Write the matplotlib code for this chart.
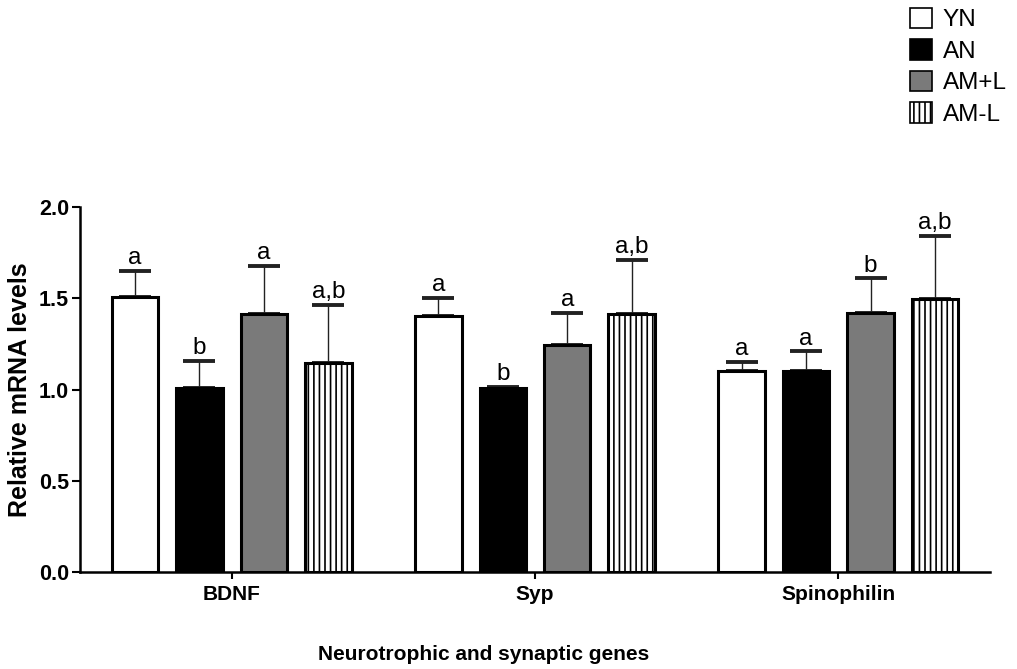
import numpy as np
import matplotlib
matplotlib.use("Agg")
import matplotlib.pyplot as plt
from matplotlib.patches import Patch

plt.rcParams['font.family'] = ['Liberation Sans', 'DejaVu Sans']
plt.rcParams['hatch.linewidth'] = 1.2

# data
genes = ["BDNF", "Syp", "Spinophilin"]
groups = ["YN", "AN", "AM+L", "AM-L"]
means = {
    "YN": [1.505, 1.403, 1.101],
    "AN": [1.008, 1.007, 1.103],
    "AM+L": [1.414, 1.244, 1.421],
    "AM-L": [1.143, 1.414, 1.494],
}
errors = {
    "YN": [0.145, 0.097, 0.048],
    "AN": [0.150, 0.008, 0.106],
    "AM+L": [0.261, 0.176, 0.188],
    "AM-L": [0.320, 0.296, 0.349],
}
letters = {
    "YN": ["a", "a", "a"],
    "AN": ["b", "b", "a"],
    "AM+L": ["a", "a", "b"],
    "AM-L": ["a,b", "a,b", "a,b"],
}

colors = {"YN": "white", "AN": "black", "AM+L": "#7a7a7a", "AM-L": "white"}
hatches = {"YN": None, "AN": None, "AM+L": None, "AM-L": "|||"}

fig = plt.figure(figsize=(10.17, 6.69), dpi=100)
ax = fig.add_axes([80 / 1017, 1 - 572 / 669, 910 / 1017, 365 / 669])

x = np.arange(len(genes))
pitch = 0.2125
width = 0.153

handles = []
for i, g in enumerate(groups):
    pos = x + (i - 1.5) * pitch
    ax.bar(pos, means[g], width, color=colors[g], edgecolor="black",
           linewidth=2.2, hatch=hatches[g], zorder=2)
    ax.errorbar(pos, means[g], yerr=[np.zeros(len(genes)), errors[g]],
                fmt="none", ecolor="#222222", elinewidth=1.0,
                capsize=11.5, capthick=2.8, zorder=1)
    for p, m, e, t in zip(pos, means[g], errors[g], letters[g]):
        ax.text(p, m + e + 0.01, t, ha="center", va="bottom", fontsize=17.5)
    handles.append(Patch(facecolor=colors[g], edgecolor="black",
                         linewidth=1.2, hatch=hatches[g], label=g))

ax.set_xlim(-0.5, 2.5)
ax.set_ylim(0, 2.0)
ax.set_yticks([0, 0.5, 1.0, 1.5, 2.0])
ax.set_yticklabels(["0.0", "0.5", "1.0", "1.5", "2.0"], fontweight="bold", fontsize=15.5)
ax.set_xticks(x)
ax.set_xticklabels(genes, fontweight="bold", fontsize=15)
ax.tick_params(axis="y", length=6, width=1.5, pad=2)
ax.tick_params(axis="x", length=5, width=1.5, pad=4)

for s in ["top", "right"]:
    ax.spines[s].set_visible(False)
for s in ["left", "bottom"]:
    ax.spines[s].set_linewidth(1.8)

ax.set_ylabel("Relative mRNA levels", fontweight="bold", fontsize=18)
ax.yaxis.set_label_coords(-0.053, 0.5)
ax.set_xlabel("Neurotrophic and synaptic genes", fontweight="bold", fontsize=15)
ax.xaxis.set_label_coords(0.443, -0.2)

fig.legend(handles=handles, loc="upper left",
           bbox_to_anchor=(910 / 1017, 1 - 8 / 669), frameon=False,
           fontsize=17.5, handlelength=0.9, handleheight=0.9,
           handletextpad=0.45, labelspacing=0.33, borderpad=0, borderaxespad=0)

fig.savefig("out.png", dpi=100)
